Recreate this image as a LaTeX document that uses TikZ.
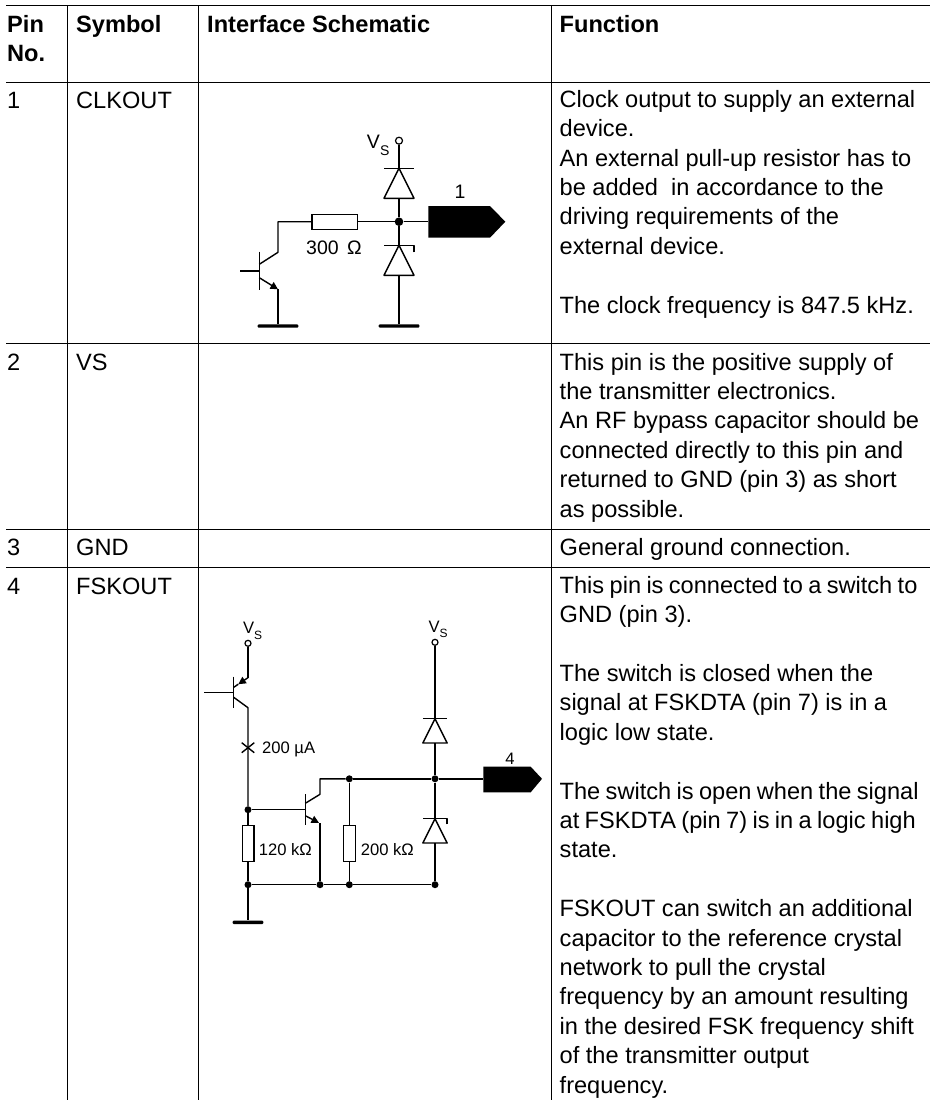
\documentclass[tikz,border=0pt]{standalone}
\usepackage{fontspec}
\setmainfont{Liberation Sans}
\usetikzlibrary{arrows.meta}
\newcommand{\tightwords}{\spaceskip=0.228em\relax}

\begin{document}
\begin{tikzpicture}[
  x=1pt, y=-1pt,
  gridline/.style={line width=1.2pt, black},
  celltext/.style={anchor=base west, align=left, inner sep=0pt, font=\fontsize{23.6}{29.4}\selectfont},
  headtext/.style={celltext, font=\fontsize{23.6}{29}\selectfont\bfseries},
  labelbig/.style={anchor=base west, inner sep=0pt, font=\fontsize{19.5}{22}\selectfont},
  labelsmall/.style={anchor=base west, inner sep=0pt, font=\fontsize{16.6}{20}\selectfont},
  subbig/.style={anchor=base west, inner sep=0pt, font=\fontsize{14}{16}\selectfont},
  subsmall/.style={anchor=base west, inner sep=0pt, font=\fontsize{12}{14}\selectfont},
  wire/.style={line width=1.4pt, line join=round},
  junction/.style={circle, fill=black, inner sep=0pt, minimum size=7pt},
  terminal/.style={circle, draw, fill=white, line width=1.2pt, inner sep=0pt, minimum size=6pt},
  gndbar/.style={rectangle, rounded corners=1pt, fill=black, inner sep=0pt, minimum height=3.4pt},
  resbox/.style={rectangle, draw, fill=white, line width=1.3pt, inner sep=0pt},
  pinflag/.style={fill=black},
  diode/.pic={
    \draw[wire] (-15,0) -- (15,0);
    \draw[wire] (0,0) -- (-15,30) -- (15,30) -- cycle;
    \coordinate (-top) at (0,0);
    \coordinate (-bot) at (0,30);
  },
  zener/.pic={
    \draw[wire] (15,7) -- (15,0) -- (-15,0);
    \draw[wire] (0,0) -- (-15,30) -- (15,30) -- cycle;
    \coordinate (-top) at (0,0);
    \coordinate (-bot) at (0,30);
  },
  >={Triangle[length=7.5pt,width=7.5pt]}
]
  \useasboundingbox (0,0) rectangle (930,1100);

  % table rules
  \draw[gridline] (6,5.5) -- (930,5.5);
  \draw[gridline] (6,82.5) -- (930,82.5);
  \draw[gridline] (6,343.5) -- (930,343.5);
  \draw[gridline] (6,529.5) -- (930,529.5);
  \draw[gridline] (6,567.5) -- (930,567.5);
  \draw[gridline] (67.5,5.5) -- (67.5,1100);
  \draw[gridline] (198.5,5.5) -- (198.5,1100);
  \draw[gridline] (551.5,5.5) -- (551.5,1100);

  % header row
  \node[headtext] (hpin) at (7,61) {Pin\\No.};
  \node[headtext] (hsym) at (76,32) {Symbol};
  \node[headtext] (hsch) at (207,32) {Interface Schematic};
  \node[headtext] (hfun) at (559.5,32) {Function};

  % pin and symbol columns
  \node[celltext] (n1) at (7,108) {1};
  \node[celltext] (s1) at (76,108) {CLKOUT};
  \node[celltext] (n2) at (7,370) {2};
  \node[celltext] (s2) at (76,370) {VS};
  \node[celltext] (n3) at (7,555) {3};
  \node[celltext] (s3) at (76,555) {GND};
  \node[celltext] (n4) at (7,594) {4};
  \node[celltext] (s4) at (76,594) {FSKOUT};

  % function column
  \node[celltext] (f1) at (559.5,313) {Clock output to supply an external\\device.\\An external pull-up resistor has to\\be added\ \ in accordance to the\\driving requirements of the\\external device.\\ \mbox{}\\The clock frequency is 847.5 kHz.};
  \node[celltext] (f2) at (559.5,517) {This pin is the positive supply of\\the transmitter electronics.\\An RF bypass capacitor should be\\connected directly to this pin and\\returned to GND (pin 3) as short\\as possible.};
  \node[celltext] (f3) at (559.5,555) {General ground connection.};
  \node[celltext] (f4) at (559.5,1093) {{\tightwords This pin is connected to a switch to}\\GND (pin 3).\\ \mbox{}\\The switch is closed when the\\signal at FSKDTA (pin 7) is in a\\logic low state.\\ \mbox{}\\{\tightwords The switch is open when the signal}\\{\tightwords at FSKDTA (pin 7) is in a logic high}\\state.\\ \mbox{}\\FSKOUT can switch an additional\\capacitor to the reference crystal\\network to pull the crystal\\frequency by an amount resulting\\in the desired FSK frequency shift\\of the transmitter output\\frequency.};

  % CLKOUT schematic
  \node[terminal, minimum size=7pt] (vs1) at (399,140.7) {};
  \node[labelbig] (vs1v) at (366.7,148) {V};
  \node[subbig] (vs1s) at (380,155) {S};
  \pic (d1) at (399,168.3) {diode};
  \pic (z1) at (399,245.3) {zener};
  \node[junction, minimum size=8.6pt] (j1) at (399,221.7) {};
  \node[gndbar, minimum width=40.6pt] (g2) at (399,326) {};
  \node[gndbar, minimum width=40.6pt] (g1) at (278,326) {};
  \node[resbox, minimum width=45.7pt, minimum height=15pt] (r1) at (334.8,221.7) {};
  \node[labelbig] (r1l) at (306,254.3) {300\kern 8.5pt Ω};
  \node[labelbig, anchor=base] (p1l) at (460,198.3) {1};
  \coordinate (p1) at (428.3,221.7);
  \coordinate (c1) at (278,221.7);
  \coordinate (c1a) at (278,252.3);
  \coordinate (c1b) at (259.3,264.3);
  \coordinate (e1a) at (259.3,277.7);
  \coordinate (e1b) at (278,289.3);
  \coordinate (b1a) at (240,271);
  \coordinate (b1b) at (259.3,271);
  \draw[wire] (vs1) -- (d1-top);
  \draw[wire] (d1-bot) -- (j1);
  \draw[wire] (j1) -- (z1-top);
  \draw[wire] (z1-bot) -- (g2);
  \draw[wire] (j1) -- (p1);
  \draw[wire] (j1) -- (r1);
  \draw[wire] (r1) -- (c1) -- (c1a) -- (c1b);
  \draw[wire] (259.3,251.7) -- (259.3,290);
  \draw[wire] (b1a) -- (b1b);
  \draw[wire, ->] (e1a) -- (e1b);
  \draw[wire] (e1b) -- (g1);
  \fill[pinflag] (p1) -- (428.3,206) -- (490,206) -- (505.3,221.7) -- (490,237.7) -- (428.3,237.7) -- cycle;

  % FSKOUT schematic
  \node[terminal] (vs2) at (248,643.3) {};
  \node[labelsmall] (vs2v) at (243,633.3) {V};
  \node[subsmall] (vs2s) at (254,639.3) {S};
  \node[terminal] (vs3) at (435,642.3) {};
  \node[labelsmall] (vs3v) at (428.3,632.7) {V};
  \node[subsmall] (vs3s) at (439.3,637.7) {S};
  \coordinate (e2a) at (248,677.7);
  \coordinate (e2b) at (238.3,684.2);
  \coordinate (c2a) at (233.7,697.3);
  \coordinate (c2b) at (248,707.7);
  \coordinate (b2a) at (204.3,692.3);
  \coordinate (b2b) at (233.7,692.3);
  \node[junction] (j2) at (248,809.7) {};
  \node[junction] (j3) at (248,884.7) {};
  \node[junction] (j4) at (320,884.7) {};
  \node[junction] (j5) at (349.3,884.7) {};
  \node[junction] (j6) at (435,884.7) {};
  \node[junction] (j7) at (349.3,778.8) {};
  \node[junction] (j8) at (435,778.8) {};
  \node[resbox, minimum width=11.7pt, minimum height=36.4pt] (r2) at (248,843.5) {};
  \node[resbox, minimum width=11.7pt, minimum height=36.4pt] (r3) at (349.3,843.5) {};
  \node[gndbar, minimum width=30.6pt] (g3) at (248,922.3) {};
  \node[labelsmall] (il) at (262,753.3) {200 µA};
  \node[labelsmall] (r2l) at (258.7,855.7) {120 kΩ};
  \node[labelsmall] (r3l) at (360.7,855.7) {200 kΩ};
  \node[labelsmall, anchor=base] (p4l) at (510,764) {4};
  \pic[scale=.81] (d2) at (435,718.7) {diode};
  \pic[scale=.81] (z2) at (435,818.7) {zener};
  \coordinate (p4) at (483.3,778.8);
  \coordinate (c3) at (320,778.8);
  \coordinate (c3a) at (320,794.3);
  \coordinate (c3b) at (305.3,803.3);
  \coordinate (e3a) at (305.3,815.7);
  \coordinate (e3b) at (319,822.8);
  \coordinate (e3c) at (320,823.3);
  \coordinate (b3b) at (305.3,809.7);
  \draw[wire] (vs2) -- (e2a);
  \draw[wire, ->] (e2a) -- (e2b);
  \draw[wire] (e2b) -- (233.7,687.3);
  \draw[wire] (233.7,676.7) -- (233.7,707.7);
  \draw[wire] (b2a) -- (b2b);
  \draw[wire] (c2a) -- (c2b) -- (j2);
  \draw[wire] (241.7,742.7) -- (254.3,752.7);
  \draw[wire] (241.7,752.7) -- (254.3,742.7);
  \draw[wire] (j2) -- (r2);
  \draw[wire] (r2) -- (j3);
  \draw[wire] (j3) -- (g3);
  \draw[wire] (j2) -- (b3b);
  \draw[wire] (305.3,794) -- (305.3,825);
  \draw[wire] (c3b) -- (c3a) -- (c3) -- (j7);
  \draw[wire] (j7) -- (j8);
  \draw[wire, ->] (e3a) -- (e3b);
  \draw[wire] (e3c) -- (j4);
  \draw[wire] (j7) -- (r3);
  \draw[wire] (r3) -- (j5);
  \draw[wire] (j3) -- (j4) -- (j5) -- (j6);
  \draw[wire] (vs3) -- (d2-top);
  \draw[wire] (d2-bot) -- (j8);
  \draw[wire] (j8) -- (z2-top);
  \draw[wire] (z2-bot) -- (j6);
  \draw[wire] (j8) -- (p4);
  \fill[pinflag] (p4) -- (483.3,766.7) -- (530.7,766.7) -- (542,778.8) -- (530.7,792.3) -- (483.3,792.3) -- cycle;
\end{tikzpicture}
\end{document}
